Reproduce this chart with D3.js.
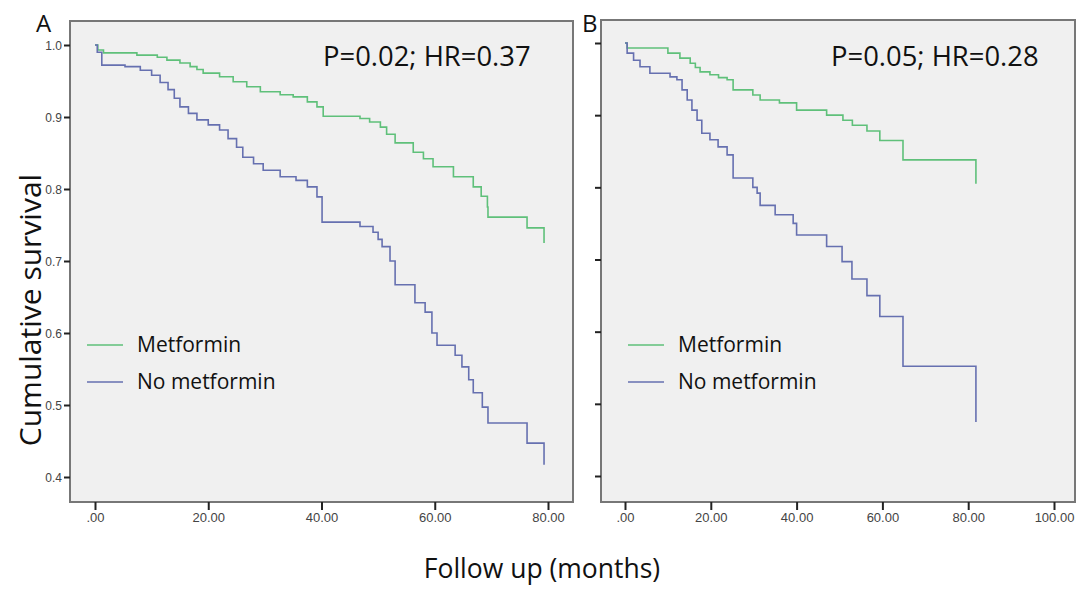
<!DOCTYPE html>
<html>
<head>
<meta charset="utf-8">
<script src="https://cdn.jsdelivr.net/npm/d3@7"></script>
<style>
  body { margin: 0; background: #fff; }
  svg text { font-family: "Open Sans", "Noto Sans", sans-serif; }
  .tick text { font-family: "Liberation Sans Narrow", "Liberation Sans", sans-serif; fill: #444; }
</style>
</head>
<body>
<svg id="chart" width="1078" height="589"></svg>
<script>
// survival steps: [months, cumulative survival]
const metforminA = [[0,1.0],[0.5,0.993],[1.5,0.989],[7.4,0.986],[11,0.983],[12.7,0.979],[15,0.975],[16.8,0.970],[18,0.966],[19.1,0.961],[22,0.956],[24.4,0.949],[26.8,0.942],[29.2,0.935],[32.7,0.931],[35,0.928],[37.5,0.921],[39.2,0.914],[40.3,0.901],[46.8,0.898],[48.5,0.893],[50.4,0.886],[51.5,0.876],[53,0.864],[56.2,0.851],[58,0.842],[59.7,0.831],[63.3,0.817],[66.8,0.803],[68.2,0.79],[69.3,0.775],[69.4,0.761],[76.3,0.746],[79.3,0.746],[79.3,0.725]];
const noMetforminA = [[0,1.0],[0.4,0.99],[1.2,0.972],[5.3,0.97],[8,0.965],[10,0.958],[11.5,0.948],[12.9,0.938],[14,0.926],[15,0.914],[16.5,0.905],[18,0.896],[20,0.889],[22,0.882],[23.5,0.870],[25,0.858],[26.1,0.844],[28,0.835],[29.7,0.826],[32.7,0.817],[35.5,0.812],[37.5,0.803],[39.2,0.789],[40.1,0.754],[46.8,0.748],[49.1,0.740],[50,0.73],[50.7,0.72],[52.1,0.70],[53,0.667],[56.5,0.642],[58.3,0.629],[59.5,0.60],[60.4,0.583],[63.6,0.569],[64.8,0.553],[66,0.535],[66.8,0.517],[68.4,0.497],[69.4,0.475],[76.3,0.447],[79.3,0.447],[79.3,0.417]];
const metforminB = [[0,1.0],[0.5,0.993],[10,0.986],[12.8,0.979],[15.2,0.972],[16.4,0.966],[17.5,0.96],[19.8,0.956],[21.8,0.952],[23.8,0.949],[25.2,0.935],[29.8,0.928],[31.5,0.921],[36,0.917],[40,0.907],[47,0.90],[50.8,0.893],[53,0.886],[56.4,0.878],[59.4,0.865],[64.8,0.838],[81.8,0.838],[81.8,0.805]];
const noMetforminB = [[0,1.0],[0.5,0.986],[2,0.976],[3.5,0.967],[5.8,0.958],[10.5,0.953],[12.1,0.949],[13.3,0.935],[14.5,0.921],[15.6,0.907],[16.8,0.893],[17.9,0.875],[19.8,0.866],[21.7,0.856],[23.8,0.845],[25.2,0.813],[29.8,0.800],[30.8,0.792],[31.5,0.775],[35,0.762],[39.2,0.75],[40,0.734],[47,0.718],[50.6,0.697],[52.9,0.673],[56.4,0.65],[59.4,0.621],[64.8,0.552],[81.8,0.552],[81.8,0.475]];

const yTicks = [0.4, 0.5, 0.6, 0.7, 0.8, 0.9, 1.0];
const xTicksA = [0, 20, 40, 60, 80];
const xTicksB = [0, 20, 40, 60, 80, 100];
const seriesNames = ['Metformin', 'No metformin'];
const colors = ['#5fc07a', '#6670b0'];

const svg = d3.select('#chart');

function drawPanel(opt) {
  const g = svg.append('g');
  const x = d3.scaleLinear().domain(opt.xDomain).range(opt.xRange);
  const y = d3.scaleLinear().domain([0.4, 1.0]).range(opt.yRange);

  g.append('rect')
    .attr('x', opt.left).attr('y', opt.top)
    .attr('width', opt.right - opt.left).attr('height', opt.bottom - opt.top)
    .attr('fill', '#f0f0f0').attr('stroke', '#777').attr('stroke-width', 2);

  const xAxis = g.append('g').attr('transform', `translate(0,${opt.bottom})`)
    .call(d3.axisBottom(x).tickValues(opt.xTicks).tickSize(8).tickPadding(3)
      .tickFormat(d => d === 0 ? '.00' : d3.format('.2f')(d)));
  xAxis.select('.domain').remove();
  xAxis.selectAll('line').attr('stroke', '#222').attr('stroke-width', 2);
  xAxis.selectAll('text').attr('font-size', 13);

  const yAxis = g.append('g').attr('transform', `translate(${opt.left},0)`)
    .call(d3.axisLeft(y).tickValues(yTicks).tickSize(6).tickPadding(2)
      .tickFormat(opt.yLabels ? d3.format('.1f') : ''));
  yAxis.select('.domain').remove();
  yAxis.selectAll('line').attr('stroke', '#222').attr('stroke-width', 2);
  yAxis.selectAll('text').attr('font-size', 12).attr('dy', '0.36em');

  const line = d3.line().x(d => x(d[0])).y(d => y(d[1])).curve(d3.curveStepAfter);
  [opt.green, opt.blue].forEach((data, i) => {
    g.append('path').datum(data)
      .attr('d', line)
      .attr('fill', 'none')
      .attr('stroke', colors[i])
      .attr('stroke-width', 1.6);
  });

  // legend
  seriesNames.forEach((name, i) => {
    const ly = opt.legendY + i * 37;
    g.append('line')
      .attr('x1', opt.legendX).attr('x2', opt.legendX + 36)
      .attr('y1', ly).attr('y2', ly)
      .attr('stroke', colors[i]).attr('stroke-width', 1.5);
    g.append('text')
      .attr('x', opt.legendX + 50).attr('y', ly + 7)
      .attr('font-size', 21).attr('fill', '#111')
      .text(name);
  });

  g.append('text')
    .attr('x', opt.statX).attr('y', 66)
    .attr('font-size', 27.4).attr('fill', '#111')
    .text(opt.stat);

  g.append('text')
    .attr('x', opt.letterX).attr('y', 32)
    .attr('font-size', 24).attr('fill', '#111')
    .text(opt.letter);
}

drawPanel({
  left: 70, right: 573, top: 21, bottom: 502,
  xDomain: [0, 80], xRange: [95, 548], yRange: [477, 45],
  xTicks: xTicksA, yLabels: true,
  green: metforminA, blue: noMetforminA,
  legendX: 87, legendY: 345,
  stat: 'P=0.02; HR=0.37', statX: 323,
  letter: 'A', letterX: 36
});

drawPanel({
  left: 601, right: 1075, top: 20, bottom: 502,
  xDomain: [0, 100], xRange: [625, 1054], yRange: [476, 43],
  xTicks: xTicksB, yLabels: false,
  green: metforminB, blue: noMetforminB,
  legendX: 628, legendY: 345,
  stat: 'P=0.05; HR=0.28', statX: 831,
  letter: 'B', letterX: 582
});

// axis titles
svg.append('text')
  .attr('transform', 'translate(41,310) rotate(-90)')
  .attr('text-anchor', 'middle')
  .attr('font-size', 30).attr('fill', '#111')
  .text('Cumulative survival');

svg.append('text')
  .attr('x', 542).attr('y', 578)
  .attr('text-anchor', 'middle')
  .attr('font-size', 26.5).attr('fill', '#111')
  .text('Follow up (months)');
</script>
</body>
</html>
